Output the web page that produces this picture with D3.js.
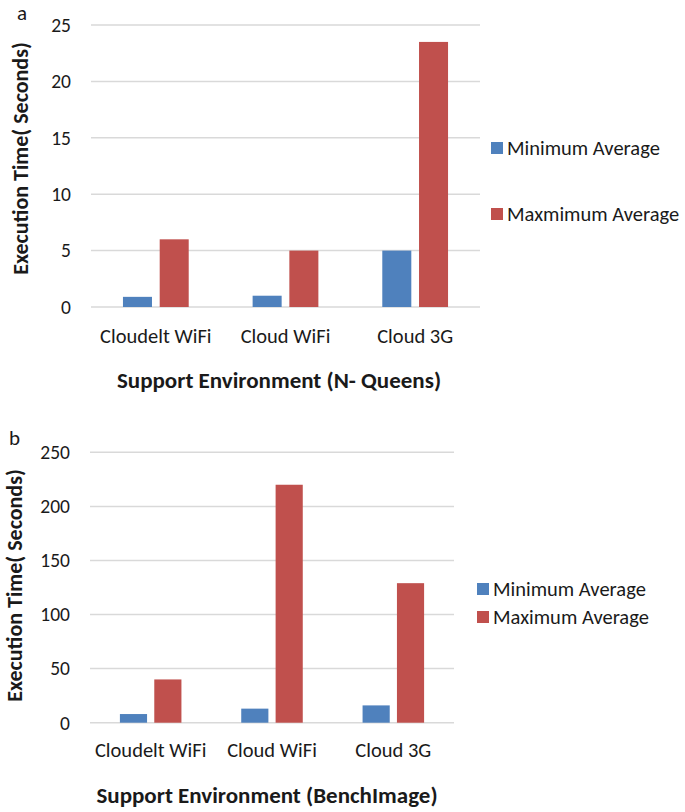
<!DOCTYPE html>
<html><head><meta charset="utf-8">
<script src="https://cdn.jsdelivr.net/npm/d3@7"></script>
<style>
body{margin:0;background:#fff;}
svg text{font-family:Carlito,Lato,"Noto Sans",sans-serif;fill:#1a1a1a;}
</style></head>
<body><svg id="c" width="685" height="812"></svg>
<script>
const categories = ["Cloudelt WiFi", "Cloud WiFi", "Cloud 3G"];
const seriesA = ["Minimum Average", "Maxmimum Average"];
const seriesB = ["Minimum Average", "Maximum Average"];
const minA = [0.9, 1.0, 5.0];
const maxA = [6.0, 5.0, 23.5];
const minB = [8, 13, 16];
const maxB = [40, 220, 129];
const ticksA = [0, 5, 10, 15, 20, 25];
const ticksB = [0, 50, 100, 150, 200, 250];
const colors = ["#4F81BD", "#C0504D"];

const svg = d3.select("#c");

function chart(o){
  const g = svg.append("g");
  const y = d3.scaleLinear().domain([0, o.ticks[o.ticks.length-1]]).range([o.bottom, o.top]);
  const x0 = d3.scaleBand().domain(categories).range([o.left, o.right]).paddingInner(0).paddingOuter(0);
  const x1 = d3.scaleBand().domain(o.series).range([0, x0.bandwidth()]).paddingInner(0.21).paddingOuter(0.87);
  g.selectAll("line.grid").data(o.ticks).join("line")
    .attr("x1", o.left).attr("x2", o.right)
    .attr("y1", d=>y(d)).attr("y2", d=>y(d))
    .attr("stroke", "#d9d9d9").attr("stroke-width", 1.5);
  g.selectAll("text.tick").data(o.ticks).join("text")
    .attr("x", o.left - 20).attr("y", d=>y(d)).attr("dy", "0.35em")
    .attr("text-anchor", "end").attr("font-size", 19.5).text(d=>d);
  const rows = categories.map((c,i)=>({c, v:[o.min[i], o.max[i]]}));
  const grp = g.selectAll("g.cat").data(rows).join("g").attr("transform", d=>`translate(${x0(d.c)},0)`);
  grp.selectAll("rect").data(d=>d.v.map((v,j)=>({s:o.series[j], v, j}))).join("rect")
    .attr("x", d=>x1(d.s)).attr("width", x1.bandwidth())
    .attr("y", d=>y(d.v)).attr("height", d=>y(0)-y(d.v))
    .attr("fill", d=>colors[d.j]);
  g.selectAll("text.cat").data(categories).join("text")
    .attr("x", d=>x0(d)+x0.bandwidth()/2).attr("y", o.catY)
    .attr("text-anchor", "middle").attr("font-size", 20.5).text(d=>d);
  g.append("text").attr("x", o.xTitleX).attr("y", o.xTitleY).attr("text-anchor","middle")
    .attr("font-size", 23).attr("font-weight","bold").text(o.xTitle);
  g.append("text").attr("transform", `translate(${o.yTitleX},${o.yTitleY}) rotate(-90)`)
    .attr("text-anchor","middle").attr("font-size", 22).attr("font-weight","bold").text("Execution Time( Seconds)");
  g.append("text").attr("x", o.letterX).attr("y", o.letterY).attr("font-size", 21).text(o.letter);
  o.series.forEach((s,j)=>{
    const ly = o.legY[j];
    g.append("rect").attr("x", o.legX).attr("y", ly-6).attr("width", 12).attr("height", 12).attr("fill", colors[j]);
    g.append("text").attr("x", o.legX+16).attr("y", ly).attr("dy","0.35em").attr("font-size", 20.5).text(s);
  });
}

chart({top:25, bottom:307, left:91, right:480, ticks:ticksA, series:seriesA, min:minA, max:maxA,
  catY:343, xTitle:"Support Environment (N- Queens)", xTitleX:279, xTitleY:388,
  yTitleX:28, yTitleY:158.5, letter:"a", letterX:17, letterY:20, legX:491, legY:[148, 214]});
chart({top:452.3, bottom:722.7, left:90, right:454, ticks:ticksB, series:seriesB, min:minB, max:maxB,
  catY:757, xTitle:"Support Environment (BenchImage)", xTitleX:267, xTitleY:803,
  yTitleX:22, yTitleY:585.5, letter:"b", letterX:9, letterY:445, legX:477, legY:[589, 617]});
</script></body></html>
